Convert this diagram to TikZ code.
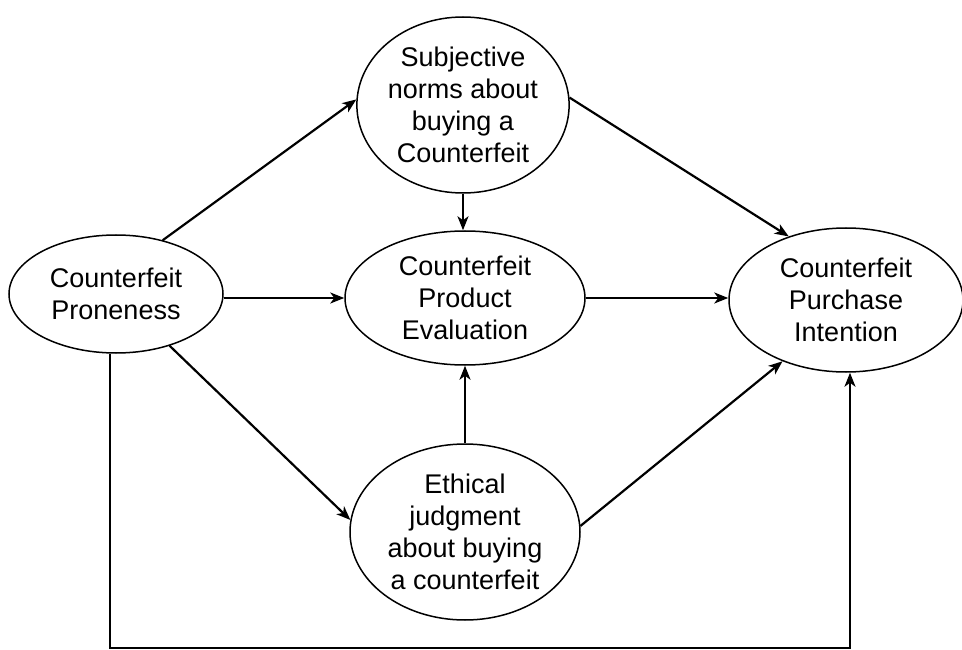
\documentclass[tikz,border=0pt]{standalone}
\usepackage{fontspec}
\setmainfont{Liberation Sans}
\usetikzlibrary{shapes.geometric,arrows.meta}
\tikzset{
  oval/.style={ellipse, draw, line width=1.5pt, inner sep=0pt, align=center,
    font=\fontsize{27}{32}\selectfont},
  arr/.style={line width=2.2pt, -{Stealth[length=14pt,width=11pt,inset=4pt]}},
}
\begin{document}
\begin{tikzpicture}[x=1pt,y=-1pt]
\useasboundingbox (0,0) rectangle (962,650);
\node[oval, minimum width=214pt, minimum height=118pt] (P) at (116,294) {Counterfeit\\Proneness};
\node[oval, minimum width=212pt, minimum height=176pt] (S) at (463,105) {Subjective\\norms about\\buying a\\Counterfeit};
\node[oval, minimum width=240pt, minimum height=134pt] (E) at (465,298) {Counterfeit\\Product\\Evaluation};
\node[oval, minimum width=230pt, minimum height=176pt] (T) at (465,532) {Ethical\\judgment\\about buying\\a counterfeit};
\node[oval, minimum width=234pt, minimum height=144pt] (Q) at (846,300) {Counterfeit\\Purchase\\Intention};
\coordinate (b1) at (110,648);
\coordinate (b2) at (850,648);
\draw[arr] (P.49) -- (S.177);
\draw[arr] (S.south) -- (S.south |- E.north);
\draw[arr] (P.east |- E.west) -- (E.west);
\draw[arr] (E.east) -- (E.east -| Q.west);
\draw[arr] (S.4) -- (Q.132);
\draw[arr] (P.316) -- (T.174);
\draw[arr] (T.north) -- (T.north |- E.south);
\draw[arr] (T.3) -- (Q.224);
\draw[arr] (P.south -| b1) -- (b1) -- (b2) -- (Q.south -| b2);
\end{tikzpicture}
\end{document}
